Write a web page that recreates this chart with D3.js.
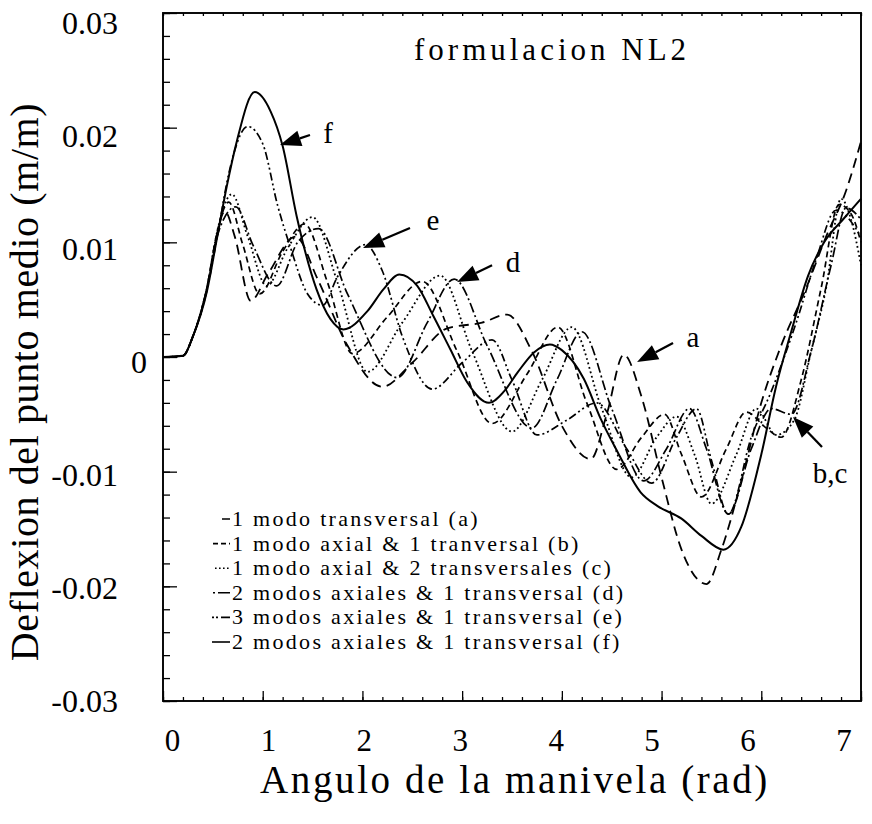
<!DOCTYPE html>
<html>
<head>
<meta charset="utf-8">
<script src="https://cdn.jsdelivr.net/npm/d3@7"></script>
<style>
  body { margin: 0; background: #fff; }
  svg { display: block; }
  text { font-family: "Liberation Serif", "Times New Roman", serif; fill: #000; }
</style>
</head>
<body>
<svg id="chart" width="872" height="824"></svg>
<script>
// ---- axis ticks ----
const xTicks = [0, 1, 2, 3, 4, 5, 6, 7];
const yTicks = [-0.03, -0.02, -0.01, 0, 0.01, 0.02, 0.03];
const yTickLabels = ["-0.03", "-0.02", "-0.01", "0", "0.01", "0.02", "0.03"];

// ---- deflection of the midpoint vs crank angle, [angle (rad), deflection (m/m)] ----
// (a) 1 transversal mode
const serieA = [[0,0],[0.2,0.0001],[0.3,0.0018],[0.44,0.0060],[0.52,0.0098],[0.62,0.0127],[0.72,0.0105],
  [0.88,0.0049],[1.05,0.0072],[1.33,0.0105],[1.55,0.0068],[1.85,0.0010],[2.2,-0.0026],[2.5,-0.0005],
  [2.85,0.0025],[3.2,0.0030],[3.45,0.0037],[3.7,0.0005],[4.0,-0.0060],[4.29,-0.0089],[4.45,-0.0050],
  [4.62,0.0002],[4.8,-0.0035],[5.0,-0.0105],[5.2,-0.0168],[5.45,-0.0198],[5.6,-0.0168],[5.8,-0.0108],
  [6.0,-0.0040],[6.2,0.0010],[6.45,0.0060],[6.65,0.0105],[6.85,0.0145],[7.0,0.0188]];
// (b) 1 axial & 1 transversal
const serieB = [[0,0],[0.2,0.0001],[0.3,0.0018],[0.44,0.0060],[0.54,0.0108],[0.66,0.0135],[0.8,0.0098],
  [0.97,0.0055],[1.2,0.0092],[1.42,0.0116],[1.65,0.0065],[1.9,0.0003],[2.25,0.0035],[2.6,0.0066],
  [2.95,0.0005],[3.3,-0.0058],[3.65,-0.0015],[3.96,0.0026],[4.25,-0.0040],[4.55,-0.0098],[4.8,-0.0070],
  [5.03,-0.0050],[5.2,-0.0085],[5.4,-0.0122],[5.65,-0.0080],[5.85,-0.0048],[6.05,-0.0062],[6.2,-0.0070],
  [6.4,-0.0020],[6.6,0.0060],[6.78,0.0133],[6.9,0.0125],[7.0,0.0100]];
// (c) 1 axial & 2 transversal
const serieC = [[0,0],[0.2,0.0001],[0.3,0.0018],[0.44,0.0060],[0.55,0.0112],[0.69,0.0142],[0.85,0.0105],
  [1.04,0.0062],[1.25,0.0095],[1.5,0.0122],[1.75,0.0065],[2.05,-0.0013],[2.4,0.0030],[2.78,0.0071],
  [3.1,0.0005],[3.5,-0.0065],[3.8,-0.0020],[4.1,0.0026],[4.4,-0.0045],[4.7,-0.0105],[4.95,-0.0070],
  [5.15,-0.0052],[5.33,-0.0085],[5.5,-0.0128],[5.75,-0.0085],[5.95,-0.0045],[6.15,-0.0068],[6.33,-0.0055],
  [6.5,0.0005],[6.65,0.0060],[6.8,0.0138],[6.9,0.0120],[7.0,0.0080]];
// (d) 2 axial & 1 transversal
const serieD = [[0,0],[0.2,0.0001],[0.3,0.0018],[0.44,0.0060],[0.56,0.0110],[0.73,0.0131],[0.9,0.0098],
  [1.14,0.0062],[1.35,0.0100],[1.56,0.0112],[1.85,0.0055],[2.35,-0.0018],[2.65,0.0030],[2.92,0.0068],
  [3.25,0.0010],[3.7,-0.0062],[3.95,-0.0020],[4.2,0.0022],[4.5,-0.0045],[4.82,-0.0108],[5.05,-0.0080],
  [5.28,-0.0045],[5.45,-0.0080],[5.67,-0.0137],[5.9,-0.0080],[6.1,-0.0045],[6.3,-0.0050],[6.5,0.0005],
  [6.7,0.0080],[6.85,0.0130],[7.0,0.0120]];
// (e) 3 axial & 1 transversal
const serieE = [[0,0],[0.2,0.0001],[0.3,0.0018],[0.44,0.0058],[0.55,0.0108],[0.66,0.0160],[0.85,0.0201],
  [1.0,0.0186],[1.15,0.0132],[1.28,0.0095],[1.45,0.0055],[1.6,0.0045],[1.75,0.0070],[2.03,0.0098],
  [2.2,0.0075],[2.4,0.0018],[2.7,-0.0028],[3.0,-0.0005],[3.3,0.0015],[3.5,-0.0020],[3.75,-0.0068],
  [4.05,-0.0055],[4.35,-0.0040],[4.65,-0.0080],[4.9,-0.0110],[5.15,-0.0070],[5.35,-0.0045],[5.5,-0.0090],
  [5.67,-0.0137],[5.9,-0.0070],[6.1,-0.0030],[6.35,0.0030],[6.55,0.0085],[6.75,0.0128],[7.0,0.0105]];
// (f) 2 axial & 1 transversal
const serieF = [[0,0],[0.2,0.0001],[0.3,0.0018],[0.44,0.0057],[0.54,0.0103],[0.64,0.0149],[0.74,0.0188],
  [0.92,0.0231],[1.08,0.0214],[1.2,0.0184],[1.34,0.0123],[1.54,0.0059],[1.68,0.0033],[1.81,0.0024],
  [2.05,0.0040],[2.21,0.0059],[2.37,0.0072],[2.55,0.0062],[2.71,0.0036],[2.88,0.0007],[3.05,-0.0022],
  [3.27,-0.0040],[3.42,-0.0030],[3.56,-0.0013],[3.72,0.0004],[3.88,0.0011],[4.0,0.0006],[4.22,-0.0019],
  [4.39,-0.0054],[4.56,-0.0083],[4.79,-0.0118],[4.96,-0.0130],[5.2,-0.0141],[5.4,-0.0156],[5.62,-0.0168],
  [5.8,-0.0148],[6.0,-0.0085],[6.15,-0.0025],[6.3,0.0022],[6.47,0.0071],[6.63,0.0100],[6.83,0.0121],
  [7.0,0.0138]];

const legendLabels = [
  "1 modo transversal (a)",
  "1 modo axial & 1 tranversal (b)",
  "1 modo axial & 2 transversales (c)",
  "2 modos axiales & 1 transversal (d)",
  "3 modos axiales & 1 transversal (e)",
  "2 modos axiales & 1 transversal (f)"
];

// callouts: label, arrow tail and tip in data units
const arrowNotes = [
  { label: "f",   tail: [1.474, 0.01936], tip: [1.173, 0.01849], at: [1.655, 0.01953] },
  { label: "e",   tail: [2.477, 0.01125], tip: [2.006, 0.00950], at: [2.708, 0.01195] },
  { label: "d",   tail: [3.300, 0.00800], tip: [2.949, 0.00654], at: [3.510, 0.00830] },
  { label: "a",   tail: [5.115, 0.00122], tip: [4.754, -0.00044], at: [5.315, 0.00174] },
  { label: "b,c", tail: [6.609, -0.00785], tip: [6.318, -0.00523], at: [6.690, -0.01010] }
];

const series = [
  { data: serieA, dash: "10,6",          width: 1.8 },
  { data: serieB, dash: "6,4",           width: 1.7 },
  { data: serieC, dash: "1.8,2.8",       width: 1.8 },
  { data: serieD, dash: "10,3,2,3",      width: 1.7 },
  { data: serieE, dash: "8,3,2,3,2,3",   width: 1.7 },
  { data: serieF, dash: null,            width: 2.0 }
];
const legendDash = ["6,0", "5,3", "1.6,2.4", "2,3,14", "2,2,2,3,12", null];
const legendStart = [222, 213, 215, 213, 212, 212];

const svg = d3.select("#chart");
const padL = 163, padR = 861, padT = 13, padB = 701;
const x = d3.scaleLinear().domain([0, 7]).range([padL, padR]);
const y = d3.scaleLinear().domain([-0.03, 0.03]).range([padB, padT]);

// ---- ticks (pointing inward) ----
const yMinor = d3.range(-15, 16).map(k => k * 0.002);
const xMinor = d3.range(0, 36).map(k => k * 0.2);
function strip(g) { g.select(".domain").remove(); g.selectAll("text").remove(); g.selectAll("line").attr("stroke", "#000").attr("stroke-width", 1.3); }

svg.append("g").attr("transform", `translate(${padL},0)`)
  .call(d3.axisRight(y).tickValues(yMinor).tickSize(7)).call(strip);
svg.append("g").attr("transform", `translate(${padL},0)`)
  .call(d3.axisRight(y).tickValues(yTicks).tickSize(14)).call(strip);
svg.append("g").attr("transform", `translate(0,${padB})`)
  .call(d3.axisTop(x).tickValues(xMinor).tickSize(4)).call(strip);
svg.append("g").attr("transform", `translate(0,${padB})`)
  .call(d3.axisTop(x).tickValues(xTicks).tickSize(10)).call(strip);
svg.append("g").attr("transform", `translate(0,${padT})`)
  .call(d3.axisBottom(x).tickValues(xMinor).tickSize(3)).call(strip);

// frame
svg.append("rect").attr("x", padL).attr("y", padT)
  .attr("width", padR - padL).attr("height", padB - padT)
  .attr("fill", "none").attr("stroke", "#000").attr("stroke-width", 1.9);

// ---- tick labels (set slightly inside the tick span, as typeset) ----
const yLab = svg.append("g").attr("transform", `translate(${padL},0)`)
  .call(d3.axisLeft(y).tickValues(yTicks).tickSize(0).tickPadding(45)
    .tickFormat(d => yTickLabels[yTicks.indexOf(d)]));
yLab.select(".domain").remove();
yLab.selectAll("text").style("font-size", "32px")
  .attr("dy", d => (0.35 * 32 + 4 + (d / 0.03) * 5).toFixed(1))
  .attr("x", d => d === 0 ? -16 : -45);

const xLab = svg.append("g").attr("transform", `translate(0,${padB})`)
  .call(d3.axisBottom(x).tickValues(xTicks).tickSize(0).tickFormat(d3.format("d")));
xLab.select(".domain").remove();
xLab.selectAll("text").style("font-size", "31px")
  .attr("y", 50).attr("dy", null)
  .attr("dx", d => (9 - d * 3.8).toFixed(1));

// ---- axis titles ----
svg.append("text").attr("x", 515).attr("y", 793)
  .attr("text-anchor", "middle").style("font-size", "39px").style("letter-spacing", "2.6px")
  .text("Angulo de la manivela (rad)");
svg.append("text").attr("transform", `translate(38,${(padT + padB) / 2 + 25}) rotate(-90)`)
  .attr("text-anchor", "middle").style("font-size", "40px").style("letter-spacing", "0.6px")
  .text("Deflexion del punto medio (m/m)");

// title
svg.append("text").attr("x", 414).attr("y", 60)
  .style("font-size", "31px").style("letter-spacing", "4px").text("formulacion NL2");

// ---- curves ----
const line = d3.line().x(d => x(d[0])).y(d => y(d[1])).curve(d3.curveMonotoneX);
svg.append("g").selectAll("path").data(series).join("path")
  .attr("d", d => line(d.data))
  .attr("fill", "none").attr("stroke", "#000")
  .attr("stroke-width", d => d.width)
  .attr("stroke-dasharray", d => d.dash);

// ---- callout arrows ----
const notes = svg.append("g");
arrowNotes.forEach(n => {
  const x1 = x(n.tail[0]), y1 = y(n.tail[1]), x2 = x(n.tip[0]), y2 = y(n.tip[1]);
  const ang = Math.atan2(y2 - y1, x2 - x1);
  const L = 21, W = 8;
  const bx = x2 - L * Math.cos(ang), by = y2 - L * Math.sin(ang);
  notes.append("line").attr("x1", x1).attr("y1", y1).attr("x2", bx).attr("y2", by)
    .attr("stroke", "#000").attr("stroke-width", 2.3);
  const px = -Math.sin(ang), py = Math.cos(ang);
  notes.append("path")
    .attr("d", `M${x2},${y2}L${bx + W * px},${by + W * py}L${bx - W * px},${by - W * py}Z`)
    .attr("fill", "#000");
  notes.append("text").attr("x", x(n.at[0])).attr("y", y(n.at[1]))
    .attr("text-anchor", "middle").attr("dy", "0.35em").style("font-size", "29px").text(n.label);
});

// ---- legend: line-style samples and tightly set rows ----
const legend = svg.append("g");
const rowGap = 24.6, firstBase = 526;
legendLabels.forEach((t, i) => {
  const base = firstBase + i * rowGap;
  legend.append("line").attr("x1", legendStart[i]).attr("x2", 230)
    .attr("y1", base - 7).attr("y2", base - 7)
    .attr("stroke", "#000").attr("stroke-width", 1.6)
    .attr("stroke-dasharray", legendDash[i]);
  legend.append("text").attr("x", 232).attr("y", base)
    .style("font-size", "22px").style("letter-spacing", "2.3px").text(t);
});
</script>
</body>
</html>
